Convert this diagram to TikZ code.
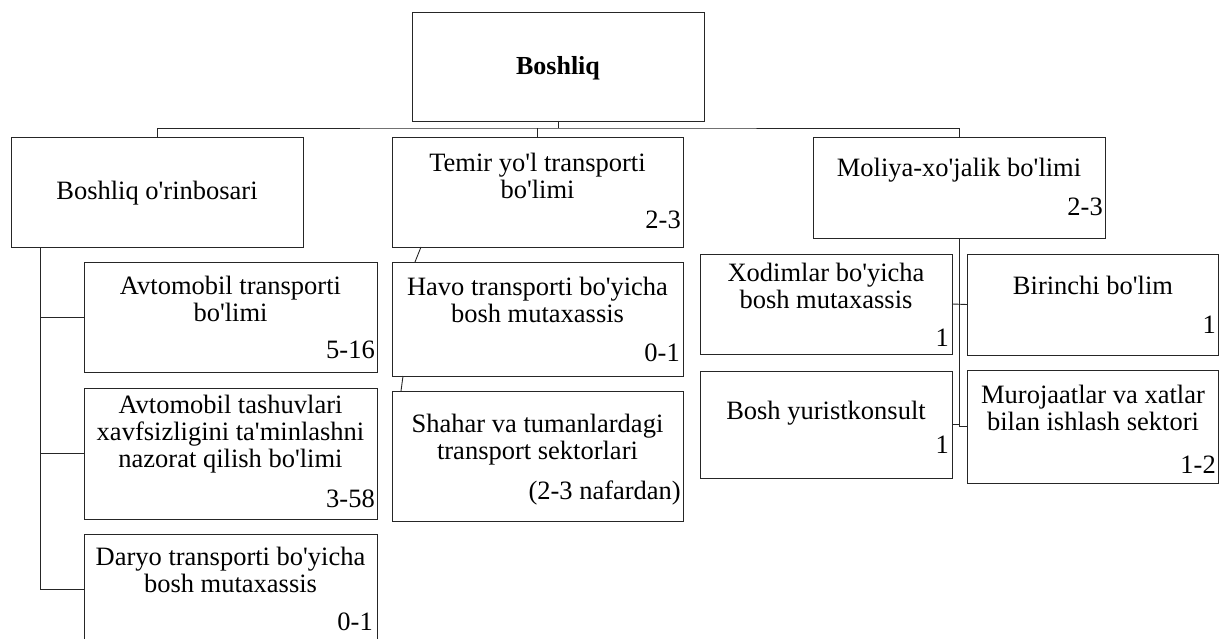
\documentclass[tikz,border=0pt]{standalone}
\usepackage{fontspec}
\setmainfont{Liberation Serif}[Ligatures=TeXOff]
% box given by name, left, top, right, bottom (y grows downward)
\newcommand{\orgbox}[5]{%
  \node[box, minimum width={#4pt-#2pt}, minimum height={#5pt-#3pt}]
    (#1) at ({(#2+#4)/2},{(#3+#5)/2}) {};}
\begin{document}
\begin{tikzpicture}[x=1pt,y=-1pt,
  box/.style={draw=black!85, line width=0.9pt, rectangle, inner sep=0pt, outer sep=0pt},
  ttl/.style={align=center, inner sep=0pt, font=\fontsize{26.5}{27}\selectfont},
  cnt/.style={anchor=east, inner sep=0pt, font=\fontsize{26.5}{27}\selectfont},
  wire/.style={draw=black!85, line width=0.9pt}]
\clip (0,0) rectangle (1220,639);
\fill[white] (0,0) rectangle (1220,639);

% boxes
\orgbox{boss}{412}{12}{704}{121}
\orgbox{deputy}{11}{137}{303}{247}
\orgbox{rail}{392}{137}{683}{247}
\orgbox{fin}{813}{137}{1105}{238}
\orgbox{auto}{84}{262}{377}{372}
\orgbox{safety}{84}{388}{377}{519}
\orgbox{river}{84}{534}{377}{644}
\orgbox{air}{392}{262}{683}{376}
\orgbox{city}{392}{391}{683}{521}
\orgbox{staff}{700}{254}{952}{354}
\orgbox{legal}{700}{371}{952}{478}
\orgbox{first}{967}{254}{1218.5}{355}
\orgbox{appeal}{967}{370}{1218.5}{483}

% top level bus
\draw[wire] (boss.south) -- ++(0,7) coordinate (bus);
\draw[wire] (deputy.north) |- (bus) -| (fin.north);
\draw[wire] (rail.north) -- (rail.north |- bus);

% left spine under the deputy
\coordinate (lspine) at ([xshift=29pt]deputy.south west);
\draw[wire] (lspine) |- (river.west);
\draw[wire] (lspine |- auto.west) -- (auto.west);
\draw[wire] (lspine |- safety.west) -- (safety.west);

% middle column links
\draw[wire] ([xshift=29pt]rail.south west) -- ([xshift=23pt]air.north west);
\draw[wire] ([xshift=11pt]air.south west) -- ([xshift=9pt]city.north west);

% right spine under finance
\draw[wire] (fin.south) -- (fin.south |- appeal.west);
\draw[wire] (staff.east) -- (first.west);
\draw[wire] (legal.east) -- (legal.east -| fin.south);
\draw[wire] (appeal.west) -- (appeal.west -| fin.south);

% texts
\node[ttl, font=\fontsize{26}{28}\selectfont\bfseries] (bossT) at (558,68) {Boshliq};
\node[ttl] (deputyT) at (157,193) {Boshliq o'rinbosari};
\node[ttl] (railT) at (537.5,175.5) {Temir yo'l transporti\\bo'limi};
\node[cnt] (railN) at (681,220) {2-3};
\node[ttl] (finT) at (959,170) {Moliya-xo'jalik bo'limi};
\node[cnt] (finN) at (1103,207) {2-3};
\node[ttl] (autoT) at (230.5,298.5) {Avtomobil transporti\\bo'limi};
\node[cnt] (autoN) at (375,350) {5-16};
\node[ttl] (safetyT) at (230.5,434.5) {Avtomobil tashuvlari\\xavfsizligini ta'minlashni\\nazorat qilish bo'limi};
\node[cnt] (safetyN) at (375,499) {3-58};
\node[ttl] (riverT) at (230.5,569.5) {Daryo transporti bo'yicha\\bosh mutaxassis};
\node[cnt] (riverN) at (373,622) {0-1};
\node[ttl] (airT) at (537.5,300) {Havo transporti bo'yicha\\bosh mutaxassis};
\node[cnt] (airN) at (680,353) {0-1};
\node[ttl] (cityT) at (537.5,439.5) {Shahar va tumanlardagi\\transport sektorlari};
\node[cnt] (cityN) at (681,493) {(2-3 nafardan)};
\node[ttl] (staffT) at (826,285.5) {Xodimlar bo'yicha\\bosh mutaxassis};
\node[cnt] (staffN) at (949,338) {1};
\node[ttl] (legalT) at (826,413) {Bosh yuristkonsult};
\node[cnt] (legalN) at (949,445) {1};
\node[ttl] (firstT) at (1093,285) {Birinchi bo'lim};
\node[cnt] (firstN) at (1216,325) {1};
\node[ttl] (appealT) at (1093,407.5) {Murojaatlar va xatlar\\bilan ishlash sektori};
\node[cnt] (appealN) at (1216,465) {1-2};
\end{tikzpicture}
\end{document}
